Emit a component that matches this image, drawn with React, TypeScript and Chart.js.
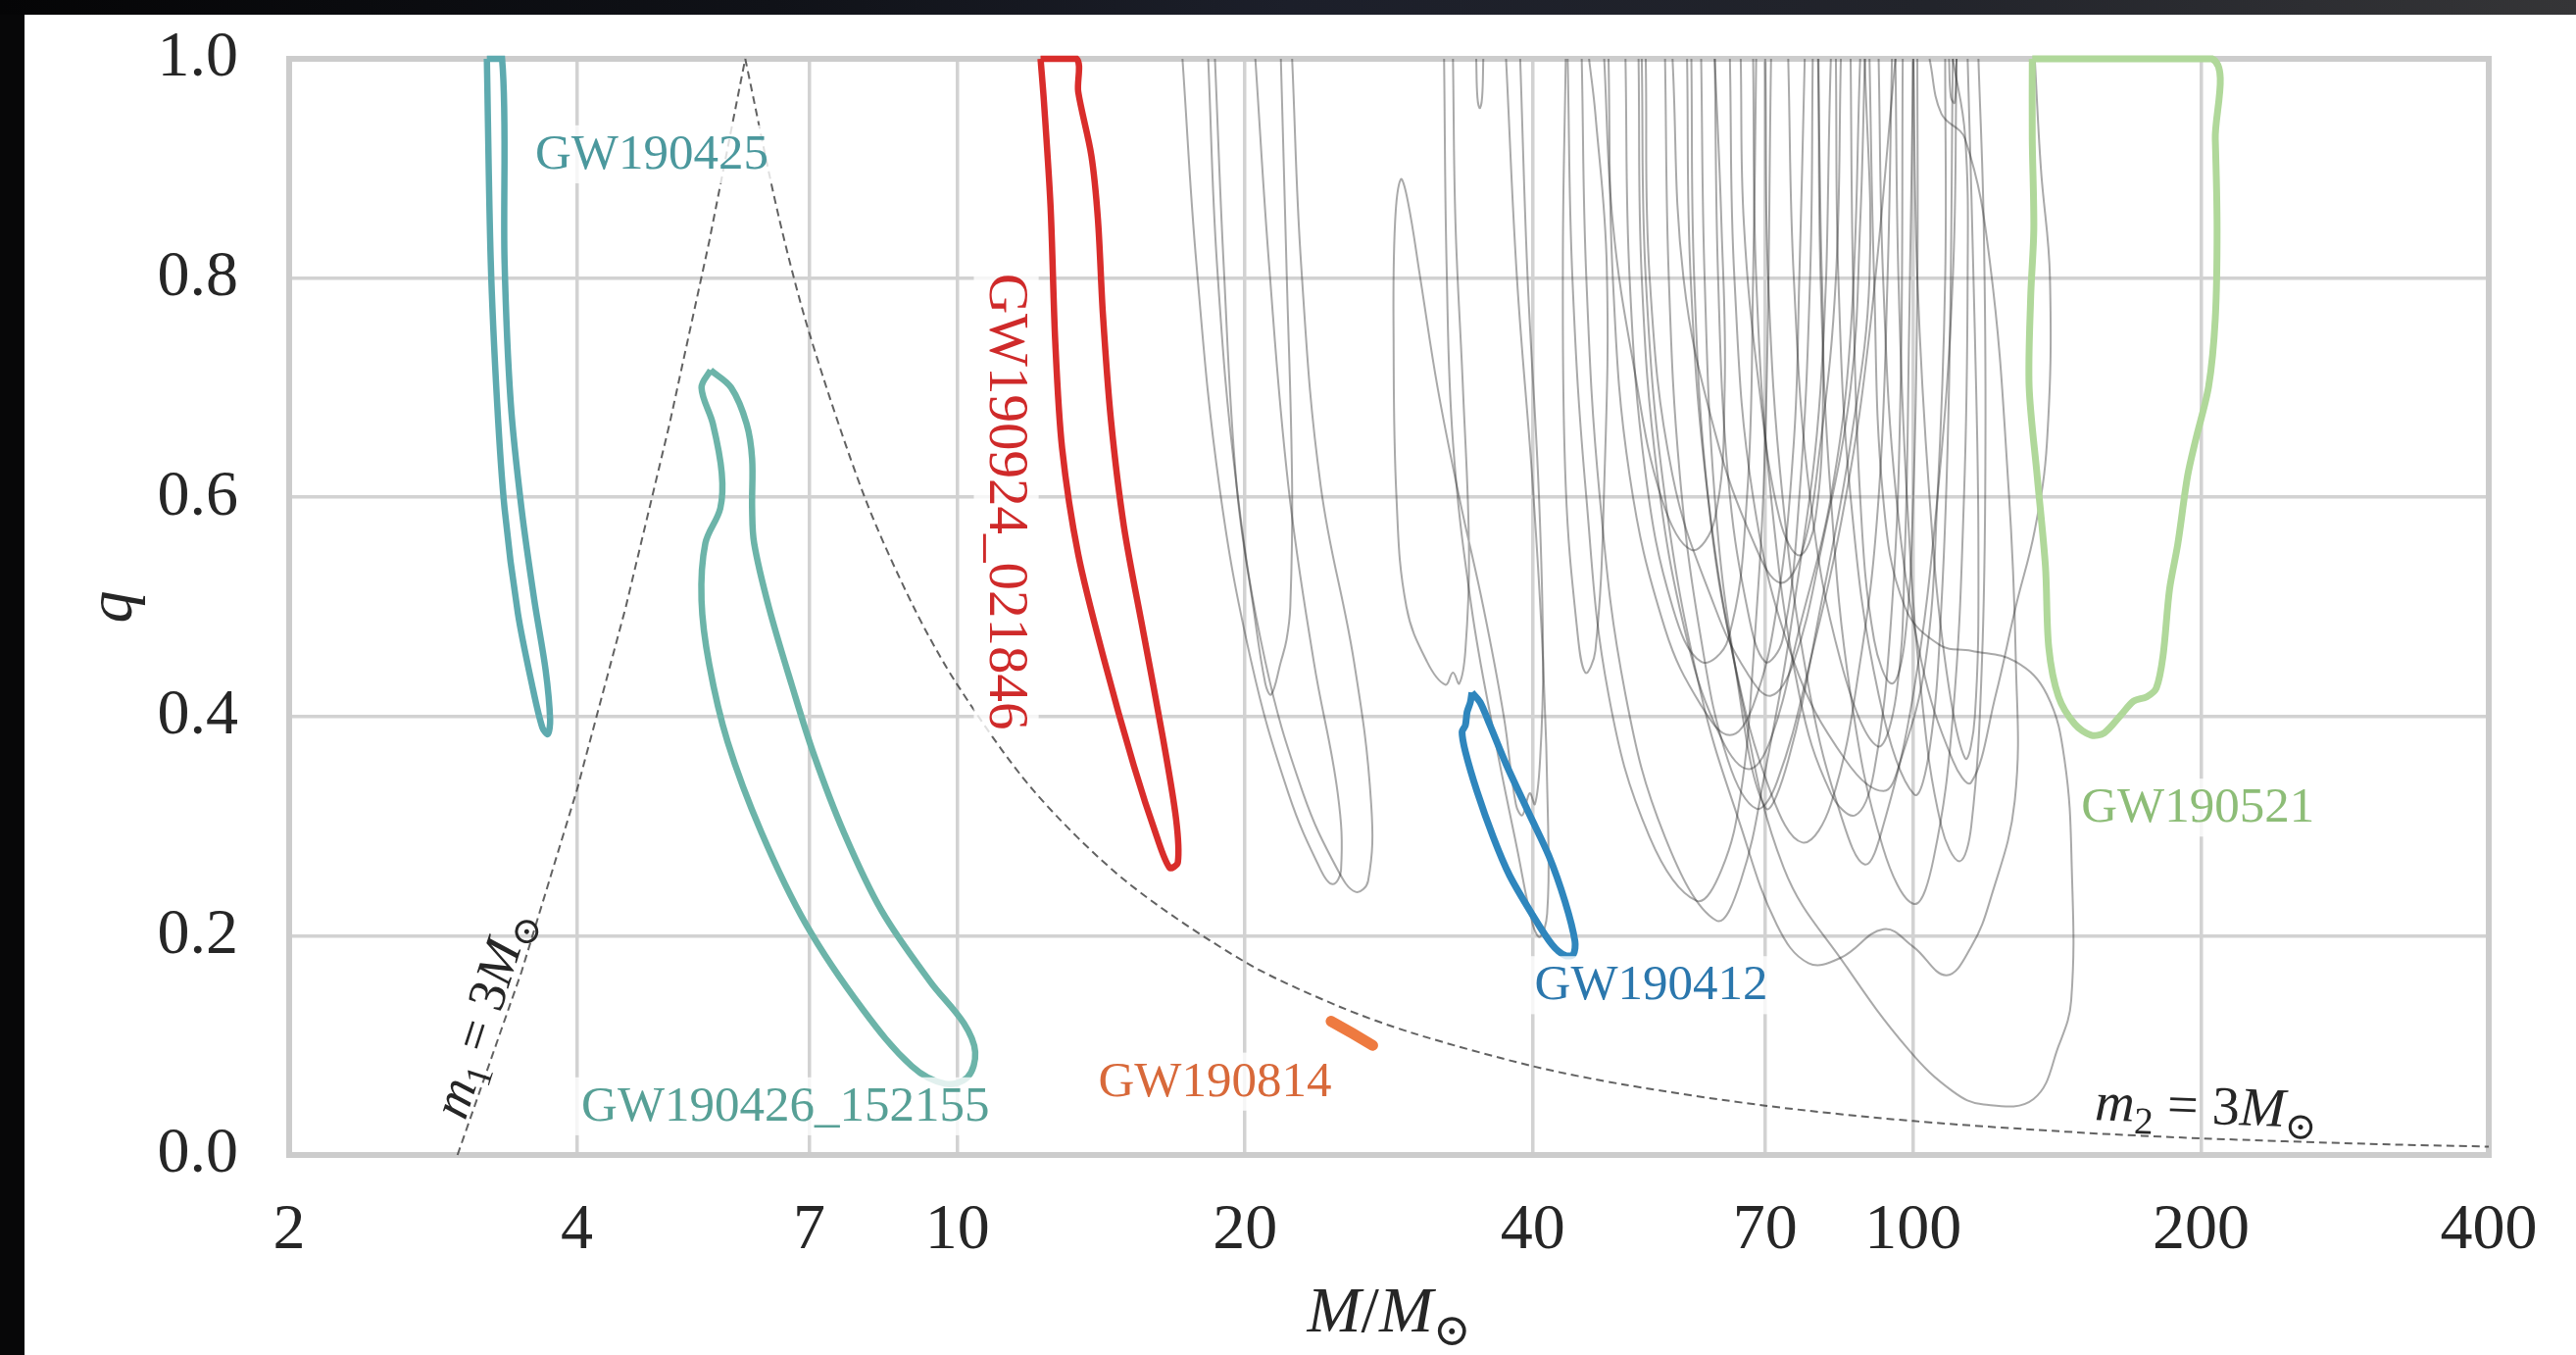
import React, { useEffect, useRef } from 'react';
import { Chart, registerables } from 'chart.js';

Chart.register(...registerables);

// ---------- axes ----------
const xTickValues = [2, 4, 7, 10, 20, 40, 70, 100, 200, 400];
const yTickValues = [0, 0.2, 0.4, 0.6, 0.8, 1.0];
const xRange = [2, 400];
const yRange = [0, 1];

// ---------- highlighted events: total mass M/Msun and mass ratio q along 90% contour ----------
const gw190425M = [3.22, 3.25, 3.30, 3.36, 3.47, 3.59, 3.68, 3.73, 3.75, 3.71, 3.61, 3.50, 3.41, 3.36, 3.34, 3.22];
const gw190425Q = [1.0, 0.816, 0.687, 0.590, 0.494, 0.429, 0.390, 0.384, 0.397, 0.442, 0.506, 0.590, 0.687, 0.816, 1.0, 1.0];

const gw190426M = [5.52, 5.80, 6.02, 6.10, 6.10, 6.13, 6.35, 6.71, 7.08, 7.61, 8.33, 9.37, 10.16, 10.44, 10.25, 9.71, 8.96, 7.96, 6.95, 6.24, 5.75, 5.50, 5.40, 5.45, 5.65, 5.67, 5.55, 5.40, 5.52];
const gw190426Q = [0.716, 0.700, 0.667, 0.635, 0.590, 0.558, 0.500, 0.429, 0.365, 0.294, 0.223, 0.158, 0.120, 0.094, 0.071, 0.065, 0.081, 0.133, 0.210, 0.294, 0.377, 0.448, 0.506, 0.558, 0.590, 0.622, 0.667, 0.700, 0.716];

const gw190924M = [12.22, 13.33, 13.38, 13.81, 14.03, 14.20, 14.48, 14.94, 15.66, 16.42, 16.94, 17.01, 16.68, 16.16, 15.30, 14.25, 13.38, 12.87, 12.66, 12.52, 12.32, 12.22];
const gw190924Q = [1.0, 1.0, 0.970, 0.912, 0.854, 0.767, 0.670, 0.573, 0.476, 0.379, 0.306, 0.267, 0.262, 0.291, 0.355, 0.451, 0.548, 0.645, 0.742, 0.864, 0.961, 1.0];

const gw190412M = [34.54, 35.23, 36.08, 37.53, 39.66, 41.57, 43.23, 44.27, 44.09, 43.23, 41.89, 39.97, 37.82, 36.36, 34.96, 34.00, 33.73, 34.00, 34.14, 34.41, 34.54];
const gw190412Q = [0.422, 0.413, 0.392, 0.356, 0.311, 0.273, 0.231, 0.195, 0.183, 0.182, 0.192, 0.219, 0.255, 0.290, 0.332, 0.368, 0.386, 0.392, 0.404, 0.413, 0.422];

const gw190814M = [24.6, 25.9, 27.2];
const gw190814Q = [0.122, 0.111, 0.100];

const gw190521M = [133.2, 205.4, 207.0, 207.9, 207.0, 203.7, 197.4, 193.6, 189.1, 185.4, 182.5, 179.6, 175.5, 170.0, 164.8, 158.4, 153.5, 147.6, 141.9, 138.6, 137.5, 134.8, 132.2, 132.7, 133.7, 133.2, 133.2];
const gw190521Q = [1.0, 1.0, 0.927, 0.845, 0.763, 0.701, 0.652, 0.619, 0.557, 0.516, 0.455, 0.426, 0.418, 0.414, 0.401, 0.385, 0.383, 0.393, 0.418, 0.463, 0.537, 0.619, 0.701, 0.783, 0.845, 0.927, 1.0];

// ---------- boundary lines m1 = 3 Msun and m2 = 3 Msun ----------
const m1LineM = [3, 3.5, 4, 4.5, 5, 5.5, 6];
const m1LineQ = [0, 0.167, 0.333, 0.5, 0.667, 0.833, 1];
const m2LineM = [6, 6.5, 7, 8, 9, 10, 12, 15, 20, 25, 30, 40, 50, 70, 100, 150, 200, 300, 400];
const m2LineQ = [1, 0.857, 0.75, 0.6, 0.5, 0.429, 0.333, 0.25, 0.176, 0.136, 0.111, 0.081, 0.064, 0.045, 0.031, 0.0204, 0.0152, 0.0101, 0.0076];

// ---------- other events (grey contours), [M, q] pairs ----------
const grayContours: number[][][] = [
  [[17.2, 1], [17.8, 0.81], [18.8, 0.61], [20.3, 0.45], [22.2, 0.33], [24.0, 0.26], [24.7, 0.247], [25.2, 0.26], [25.0, 0.33], [23.6, 0.45], [22.2, 0.61], [21.2, 0.81], [20.5, 1]],
  [[18.3, 1], [18.7, 0.81], [19.6, 0.61], [21.0, 0.45], [23.0, 0.33], [25.0, 0.26], [26.1, 0.24], [26.9, 0.25], [27.1, 0.32], [26.0, 0.45], [24.0, 0.61], [22.9, 0.81], [22.4, 1]],
  [[18.6, 1], [19.0, 0.81], [19.6, 0.61], [20.4, 0.5], [21.0, 0.43], [21.3, 0.42], [21.8, 0.45], [22.1, 0.47], [22.3, 0.5], [22.4, 0.61], [22.1, 0.81], [21.8, 1]],
  [[33.0, 1], [33.2, 0.85], [33.8, 0.7], [34.3, 0.55], [34.0, 0.46], [33.5, 0.43], [33.0, 0.44], [32.4, 0.429], [31.0, 0.45], [29.5, 0.5], [28.8, 0.6], [28.6, 0.75], [28.7, 0.85], [29.1, 0.89], [29.6, 0.87], [30.5, 0.8], [31.8, 0.7], [33.5, 0.6], [35.5, 0.5], [37.3, 0.4], [38.4, 0.32], [39.0, 0.31], [39.7, 0.33], [40.2, 0.32], [40.7, 0.36], [41.0, 0.45], [40.6, 0.6], [39.5, 0.8], [38.8, 1]],
  [[32.3, 1], [32.5, 0.81], [33.0, 0.65], [34.5, 0.5], [36.5, 0.38], [38.5, 0.28], [40.0, 0.21], [40.7, 0.199], [41.4, 0.22], [41.5, 0.3], [41.0, 0.45], [40.0, 0.61], [38.5, 0.8], [37.5, 1]],
  [[34.9, 1], [35.0, 0.965], [35.2, 0.955], [35.4, 0.965], [35.5, 1]],
  [[43.3, 1], [43.0, 0.81], [43.3, 0.61], [44.5, 0.48], [45.4, 0.44], [46.5, 0.46], [47.5, 0.61], [47.8, 0.81], [46.5, 0.95], [45.8, 1]],
  [[47.5, 1], [48.5, 0.85], [51, 0.72], [54.5, 0.6], [58.6, 0.552], [62, 0.58], [63.5, 0.7], [63, 0.85], [62, 1]],
  [[66, 1], [66.5, 0.85], [69, 0.7], [72.5, 0.58], [76, 0.547], [79, 0.58], [80.5, 0.7], [80, 0.85], [79.5, 1]],
  [[56, 1], [57.5, 0.8], [62, 0.66], [68, 0.56], [72.6, 0.522], [76.5, 0.55], [80, 0.65], [83, 0.8], [84, 1]],
  [[52.5, 1], [53, 0.8], [56, 0.62], [62, 0.5], [67, 0.44], [71, 0.419], [75, 0.45], [80, 0.55], [86, 0.7], [88, 0.85], [89, 1]],
  [[48, 1], [48.5, 0.8], [50.5, 0.62], [55, 0.48], [60, 0.41], [64.3, 0.383], [68, 0.41], [72, 0.5], [75, 0.65], [76, 0.8], [77, 1]],
  [[51.6, 1], [52, 0.8], [54, 0.62], [58, 0.47], [63, 0.38], [67.3, 0.352], [71, 0.38], [76, 0.48], [82, 0.6], [86, 0.75], [88, 1]],
  [[55, 1], [55.5, 0.8], [57, 0.62], [60, 0.47], [64, 0.36], [68.5, 0.316], [72, 0.34], [78, 0.45], [85, 0.6], [90, 0.75], [95.8, 1]],
  [[74, 1], [75, 0.8], [78, 0.6], [84, 0.45], [91.7, 0.373], [96, 0.42], [98, 0.55], [99, 0.75], [100, 1]],
  [[83, 1], [83.5, 0.8], [86, 0.6], [92, 0.42], [100.2, 0.329], [104, 0.37], [107, 0.5], [109, 0.7], [110, 1]],
  [[70, 1], [70.5, 0.8], [73, 0.6], [78, 0.42], [84, 0.31], [89, 0.265], [93, 0.3], [100, 0.42], [106, 0.6], [110, 0.8], [111, 1]],
  [[95.8, 1], [96.5, 0.8], [98.5, 0.6], [102, 0.42], [107, 0.3], [111.8, 0.268], [115, 0.3], [118, 0.45], [119, 0.65], [118.5, 0.85], [117, 1]],
  [[58.6, 1], [59, 0.8], [61, 0.6], [65, 0.45], [71, 0.33], [76.6, 0.285], [82, 0.32], [88, 0.45], [92, 0.6], [94, 0.8], [95, 1]],
  [[79.6, 1], [80, 0.8], [82, 0.6], [86, 0.42], [93, 0.28], [100.2, 0.229], [105, 0.27], [110, 0.4], [113, 0.6], [114, 0.8], [113.3, 0.93], [110, 1]],
  [[45, 1], [45.5, 0.8], [47, 0.6], [50, 0.42], [55, 0.29], [62.2, 0.214], [66, 0.25], [70, 0.35], [75, 0.5], [80, 0.7], [82, 1]],
  [[43.5, 1], [44, 0.8], [45.5, 0.6], [48, 0.42], [53, 0.29], [59.3, 0.232], [63, 0.26], [66, 0.33], [68, 0.45], [70, 0.65], [71, 1]],
  [[60, 1], [60.5, 0.8], [62, 0.6], [65, 0.45], [70, 0.317], [74, 0.36], [80, 0.5], [86, 0.65], [90, 0.8], [89, 1]],
  [[100, 1], [101, 0.8], [104, 0.6], [108, 0.45], [113.3, 0.362], [116, 0.4], [117, 0.55], [116, 0.75], [114, 1]],
  [[64.3, 1], [65, 0.8], [68, 0.6], [75, 0.45], [85, 0.36], [93.1, 0.332], [97, 0.36], [103, 0.45], [106, 0.6], [108, 0.8], [108, 1]],
  [[92, 1], [93, 0.8], [96, 0.6], [102, 0.45], [110, 0.36], [115, 0.34], [122, 0.42], [128, 0.5], [134, 0.57], [138, 0.65], [139, 0.8], [136, 0.9], [134, 1]],
  [[109, 1], [109.5, 0.965], [110.5, 0.96], [111, 1]],
  [[62, 1], [62.5, 0.8], [64, 0.62], [67, 0.5], [70, 0.45], [73, 0.47], [76, 0.6], [78, 0.8], [78.5, 1]],
  [[86, 1], [86.5, 0.8], [88, 0.6], [91, 0.47], [95, 0.43], [98, 0.47], [100, 0.6], [101, 0.8], [101, 1]],
  [[50, 1], [50.5, 0.8], [52.5, 0.62], [56, 0.5], [60, 0.45], [64, 0.47], [67, 0.6], [68, 0.8], [68.5, 1]],
  [[68, 1], [68.5, 0.8], [71, 0.6], [76, 0.42], [82, 0.33], [87, 0.31], [91, 0.35], [95, 0.5], [97, 0.7], [97.5, 1]],
  [[52, 1], [52.5, 0.8], [55, 0.6], [60, 0.42], [66, 0.3], [72, 0.21], [77.7, 0.175], [84, 0.18], [93.1, 0.206], [100, 0.19], [108.3, 0.164], [115, 0.19], [120.3, 0.232], [127.7, 0.323], [128, 0.455], [125.8, 0.609], [120.3, 0.814], [113.3, 0.927], [107, 0.95], [104, 1]],
  [[58, 1], [58.5, 0.8], [61, 0.6], [66, 0.42], [73.2, 0.262], [85.1, 0.172], [98.9, 0.096], [110, 0.058], [118.5, 0.046], [133.6, 0.051], [142, 0.1], [146.3, 0.141], [146.5, 0.262], [144, 0.36], [138, 0.42], [128, 0.45], [115, 0.46], [106.7, 0.465], [98, 0.5], [93, 0.6], [91, 0.8], [90, 1]],
];

// ---------- text annotations ----------
const eventLabels = [
  { text: 'GW190425', M: 4.79, q: 0.912, color: '#4b989d', angle: 0, size: 51 },
  { text: 'GW190426_152155', M: 6.61, q: 0.0435, color: '#57a096', angle: 0, size: 51 },
  { text: 'GW190924_021846', M: 11.22, q: 0.596, color: '#cf2a2a', angle: 90, size: 57 },
  { text: 'GW190814', M: 18.6, q: 0.066, color: '#d8693a', angle: 0, size: 51 },
  { text: 'GW190412', M: 53.2, q: 0.154, color: '#2b77ad', angle: 0, size: 51 },
  { text: 'GW190521', M: 198.5, q: 0.316, color: '#8dbd77', angle: 0, size: 51 },
];

const FONT = '"Liberation Serif", "DejaVu Serif", serif';
const TEXT = '#262626';

type Part = { t: string; i?: boolean; sub?: boolean };

function drawRich(ctx: CanvasRenderingContext2D, parts: Part[], x: number, y: number, angleDeg: number, size: number, color: string) {
  ctx.save();
  ctx.translate(x, y);
  ctx.rotate((angleDeg * Math.PI) / 180);
  const fonts = parts.map((p) => `${p.i ? 'italic ' : ''}${p.sub ? Math.round(size * 0.7) : size}px ${FONT}`);
  let total = 0;
  const widths = parts.map((p, k) => {
    ctx.font = fonts[k];
    const w = ctx.measureText(p.t).width;
    total += w;
    return w;
  });
  let cx = -total / 2;
  ctx.fillStyle = color;
  ctx.textBaseline = 'alphabetic';
  ctx.textAlign = 'left';
  parts.forEach((p, k) => {
    ctx.font = fonts[k];
    ctx.fillText(p.t, cx, size * 0.33 + (p.sub ? size * 0.22 : 0));
    cx += widths[k];
  });
  ctx.restore();
}

const pts = (M: number[], Q: number[]) => M.map((m, i) => ({ x: m, y: Q[i] }));

const backgroundPlugin = {
  id: 'bg',
  beforeDraw(chart: any) {
    const { ctx, width, height } = chart;
    ctx.save();
    ctx.fillStyle = '#070708';
    ctx.fillRect(0, 0, width, height);
    const g = ctx.createLinearGradient(0, 0, width, 0);
    g.addColorStop(0, '#050506');
    g.addColorStop(0.3, '#101218');
    g.addColorStop(0.5, '#1c1f2a');
    g.addColorStop(0.75, '#22242b');
    g.addColorStop(1, '#353537');
    ctx.fillStyle = g;
    ctx.fillRect(0, 0, width, 15);
    ctx.fillStyle = '#ffffff';
    ctx.fillRect(25, 15, width - 25, height - 15);
    ctx.restore();
  },
  beforeDatasetsDraw(chart: any) {
    const { ctx, chartArea: a } = chart;
    ctx.save();
    ctx.strokeStyle = '#cccccc';
    ctx.lineWidth = 6;
    ctx.strokeRect(a.left, a.top, a.right - a.left, a.bottom - a.top);
    ctx.restore();
  },
  afterDatasetsDraw(chart: any) {
    const { ctx, chartArea: a } = chart;
    const xs = chart.scales.x;
    const ys = chart.scales.y;
    eventLabels.forEach((l) => {
      const px = xs.getPixelForValue(l.M);
      const py = ys.getPixelForValue(l.q);
      ctx.save();
      ctx.translate(px, py);
      ctx.rotate((l.angle * Math.PI) / 180);
      ctx.font = `${l.size}px ${FONT}`;
      const w = ctx.measureText(l.text).width;
      ctx.fillStyle = 'rgba(255,255,255,0.8)';
      ctx.fillRect(-w / 2 - 6, -l.size * 0.6, w + 12, l.size * 1.16);
      ctx.fillStyle = l.color;
      ctx.textAlign = 'center';
      ctx.textBaseline = 'middle';
      ctx.fillText(l.text, 0, 0);
      ctx.restore();
    });
    drawRich(ctx, [{ t: 'm', i: true }, { t: '1', sub: true }, { t: ' = 3' }, { t: 'M', i: true }, { t: '\u2299', sub: true }],
      xs.getPixelForValue(3.18), ys.getPixelForValue(0.129), -72, 54, TEXT);
    drawRich(ctx, [{ t: 'm', i: true }, { t: '2', sub: true }, { t: ' = 3' }, { t: 'M', i: true }, { t: '\u2299', sub: true }],
      xs.getPixelForValue(202.5), ys.getPixelForValue(0.045), 2, 56, TEXT);
    drawRich(ctx, [{ t: 'M', i: true }, { t: '/' }, { t: 'M', i: true }, { t: '\u2299', sub: true }],
      (a.left + a.right) / 2, 1336, 0, 66, TEXT);
    drawRich(ctx, [{ t: 'q', i: true }], 112, (a.top + a.bottom) / 2, -90, 66, TEXT);
  },
};

export default function App() {
  const ref = useRef<HTMLCanvasElement>(null);
  useEffect(() => {
    document.body.style.margin = '0';
    const canvas = ref.current!;
    const base = { showLine: true, pointRadius: 0, pointHoverRadius: 0, fill: false, clip: 5 };
    const colored = [
      { label: 'GW190425', data: pts(gw190425M, gw190425Q), borderColor: '#5eaaaf', borderWidth: 6.5, tension: 0.3 },
      { label: 'GW190426_152155', data: pts(gw190426M, gw190426Q), borderColor: '#6cb4a9', borderWidth: 6.5, tension: 0.35 },
      { label: 'GW190924_021846', data: pts(gw190924M, gw190924Q), borderColor: '#d92d2b', borderWidth: 6.5, tension: 0.3 },
      { label: 'GW190412', data: pts(gw190412M, gw190412Q), borderColor: '#2f86bd', borderWidth: 7, tension: 0.3 },
      { label: 'GW190814', data: pts(gw190814M, gw190814Q), borderColor: '#ee7a40', borderWidth: 11, borderCapStyle: 'round', tension: 0 },
      { label: 'GW190521', data: pts(gw190521M, gw190521Q), borderColor: '#b0d89a', borderWidth: 7, tension: 0.3 },
    ].map((d) => ({ ...base, ...d, order: 0 }));
    const dashed = [
      { label: 'm1=3', data: pts(m1LineM, m1LineQ), tension: 0 },
      { label: 'm2=3', data: pts(m2LineM, m2LineQ), tension: 0.3 },
    ].map((d) => ({ ...base, ...d, borderColor: 'rgba(70,70,70,0.85)', borderWidth: 2, borderDash: [8, 5], order: 1 }));
    const gray = grayContours.map((c, k) => ({
      ...base,
      label: `event${k}`,
      data: c.map(([m, q]) => ({ x: m, y: q })),
      borderColor: 'rgba(40,40,40,0.4)',
      borderWidth: 2,
      tension: 0.4,
      order: 2,
    }));

    const tickFont = { family: FONT, size: 66 };
    const chart = new Chart(canvas, {
      type: 'scatter',
      data: { datasets: [...colored, ...dashed, ...gray] as any },
      plugins: [backgroundPlugin],
      options: {
        animation: false,
        responsive: false,
        devicePixelRatio: 1,
        layout: { padding: { left: 0, top: 60, right: 89, bottom: 0 } },
        plugins: { legend: { display: false }, tooltip: { enabled: false } },
        events: [],
        scales: {
          x: {
            type: 'logarithmic',
            min: xRange[0],
            max: xRange[1],
            afterBuildTicks: (s: any) => { s.ticks = xTickValues.map((v) => ({ value: v })); },
            afterFit: (s: any) => { s.height = 204; s.paddingLeft = 40; s.paddingRight = 40; },
            ticks: { callback: (v: any) => String(v), font: tickFont, color: TEXT, padding: 38, maxRotation: 0, autoSkip: false },
            grid: { color: '#d2d2d2', lineWidth: 3.5, drawTicks: false },
            border: { display: false },
          },
          y: {
            type: 'linear',
            min: yRange[0],
            max: yRange[1],
            afterBuildTicks: (s: any) => { s.ticks = yTickValues.map((v) => ({ value: v })); },
            afterFit: (s: any) => { s.width = 295; s.paddingTop = 30; s.paddingBottom = 30; },
            ticks: { callback: (v: any) => Number(v).toFixed(1), font: tickFont, color: TEXT, padding: 52 },
            grid: { color: '#d2d2d2', lineWidth: 3.5, drawTicks: false },
            border: { display: false },
          },
        },
      } as any,
    });
    return () => chart.destroy();
  }, []);
  return (
    <div style={{ position: 'fixed', left: 0, top: 0, width: 2628, height: 1382 }}>
      <canvas ref={ref} width={2628} height={1382} style={{ display: 'block' }} />
    </div>
  );
}
